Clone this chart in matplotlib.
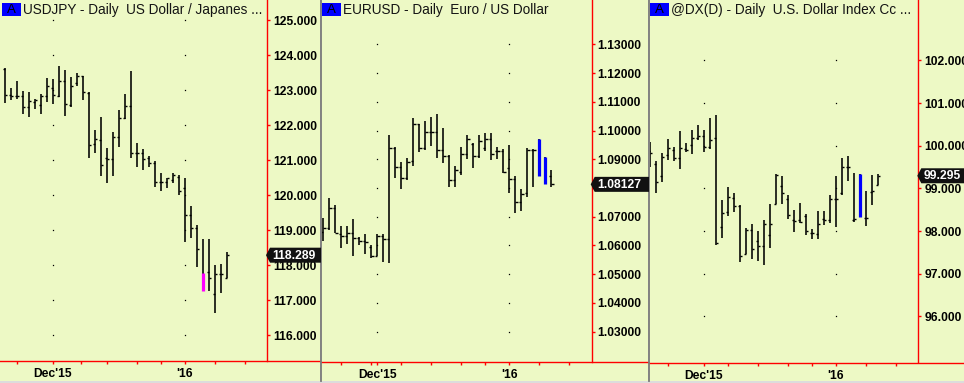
import matplotlib
matplotlib.use('Agg')
import matplotlib.pyplot as plt
from matplotlib.patches import Rectangle, Polygon

plt.rcParams['font.family'] = ['Liberation Sans', 'DejaVu Sans']

# ---------------- data ----------------
# Panel 1: USDJPY daily OHLC
jpy_open  = [123.60, 122.87, 122.85, 122.84, 122.53, 122.68, 122.59, 122.85, 123.06, 122.85,
             123.27, 122.58, 123.20, 123.41, 122.93, 121.47, 121.58, 121.06, 121.04, 121.66,
             122.20, 122.54, 121.22, 121.20, 121.06, 120.93, 120.39, 120.39, 120.44, 120.53,
             120.20, 119.44, 119.06, 117.77, 117.80, 117.18, 117.74, 117.63]
jpy_high  = [123.64, 123.06, 123.27, 122.98, 122.94, 122.75, 122.90, 123.34, 123.31, 123.70,
             123.58, 123.37, 123.49, 123.41, 122.96, 121.87, 122.25, 121.35, 121.81, 122.44,
             122.90, 123.55, 121.49, 121.32, 121.12, 120.98, 120.63, 120.49, 120.65, 120.58,
             120.49, 119.70, 119.15, 118.75, 118.75, 118.01, 118.04, 118.39]
jpy_low   = [122.63, 122.71, 122.75, 122.31, 122.25, 122.48, 122.31, 122.68, 122.60, 122.82,
             122.28, 122.51, 123.13, 122.71, 121.06, 121.22, 120.55, 120.34, 120.55, 121.37,
             122.19, 121.06, 120.82, 120.71, 120.81, 120.23, 120.13, 120.22, 120.34, 120.01,
             118.68, 118.77, 117.96, 117.28, 117.28, 116.65, 117.20, 117.63]
jpy_close = [122.87, 122.85, 122.84, 122.51, 122.69, 122.72, 122.84, 123.12, 122.88, 123.27,
             122.61, 123.12, 123.41, 122.94, 121.43, 121.60, 120.86, 121.04, 121.68, 122.20,
             122.54, 121.22, 121.22, 121.05, 120.93, 120.39, 120.39, 120.49, 120.58, 120.13,
             119.44, 119.06, 118.48, 117.28, 117.63, 117.74, 117.74, 118.289]
jpy_hilite = [33]
jpy_ticks = [116, 117, 118, 119, 120, 121, 122, 123, 124, 125]

# Panel 2: EURUSD daily OHLC
eur_open  = [1.0646, 1.0661, 1.0732, 1.0640, 1.0634, 1.0644, 1.0625, 1.0614, 1.0594, 1.0565,
             1.0634, 1.0623, 1.0940, 1.0874, 1.0836, 1.0894, 1.1023, 1.0940, 1.0995, 1.0995,
             1.0931, 1.0911, 1.0828, 1.0854, 1.0917, 1.0954, 1.0911, 1.0940, 1.0969, 1.0929,
             1.0929, 1.0871, 1.0830, 1.0750, 1.0781, 1.0931, 1.0972, 1.0908, 1.0842]
eur_high  = [1.0696, 1.0765, 1.0742, 1.0667, 1.0667, 1.0692, 1.0629, 1.0640, 1.0600, 1.0640,
             1.0640, 1.0983, 1.0942, 1.0890, 1.0903, 1.1042, 1.1023, 1.1032, 1.1047, 1.1058,
             1.1009, 1.0915, 1.0877, 1.0942, 1.0984, 1.0957, 1.0984, 1.0992, 1.0992, 1.0942,
             1.0937, 1.0948, 1.0842, 1.0798, 1.0940, 1.0934, 1.0972, 1.0908, 1.0862]
eur_low   = [1.0617, 1.0654, 1.0642, 1.0592, 1.0606, 1.0565, 1.0600, 1.0571, 1.0557, 1.0562,
             1.0542, 1.0540, 1.0834, 1.0796, 1.0828, 1.0877, 1.0926, 1.0931, 1.0946, 1.0903,
             1.0886, 1.0802, 1.0802, 1.0845, 1.0900, 1.0871, 1.0903, 1.0929, 1.0896, 1.0900,
             1.0851, 1.0781, 1.0712, 1.0719, 1.0769, 1.0804, 1.0842, 1.0813, 1.0804]
eur_close = [1.0661, 1.0732, 1.0642, 1.0634, 1.0644, 1.0625, 1.0614, 1.0611, 1.0565, 1.0634,
             1.0623, 1.0940, 1.0874, 1.0836, 1.0892, 1.1023, 1.0940, 1.0995, 1.0995, 1.0931,
             1.0911, 1.0828, 1.0863, 1.0917, 1.0970, 1.0911, 1.0965, 1.0969, 1.0919, 1.0929,
             1.0854, 1.0830, 1.0750, 1.0779, 1.0931, 1.0931, 1.0842, 1.0813, 1.08127]
eur_hilite = [36, 37]
eur_ticks = [1.03, 1.04, 1.05, 1.06, 1.07, 1.08, 1.09, 1.10, 1.11, 1.12, 1.13]

# Panel 3: @DX daily OHLC
dx_open  = [99.87, 99.58, 99.28, 99.79, 99.89, 99.71, 99.93, 100.02, 100.19, 100.23,
            99.97, 100.18, 98.09, 98.45, 98.77, 98.59, 97.47, 98.03, 97.76, 97.64,
            97.90, 98.64, 99.06, 98.74, 98.27, 98.27, 98.35, 97.96, 97.94, 98.29,
            98.25, 98.74, 98.90, 99.50, 98.25, 99.33, 98.31, 98.91, 99.09]
dx_high  = [100.09, 99.63, 99.83, 100.16, 99.97, 100.34, 100.07, 100.36, 100.48, 100.36,
            100.66, 100.71, 98.72, 99.03, 98.88, 98.62, 98.06, 98.16, 97.99, 98.27,
            98.64, 99.34, 99.28, 98.85, 98.50, 98.66, 98.39, 98.04, 98.46, 98.46,
            98.84, 99.29, 99.72, 99.75, 99.37, 99.33, 98.95, 99.32, 99.34]
dx_low   = [99.50, 98.89, 99.16, 99.67, 99.63, 99.46, 99.85, 99.81, 100.13, 99.85,
            99.93, 97.68, 97.84, 98.35, 98.45, 97.27, 97.47, 97.35, 97.29, 97.21,
            97.60, 98.64, 98.64, 98.29, 97.98, 98.20, 97.91, 97.82, 97.82, 98.15,
            98.20, 98.09, 98.84, 99.17, 98.21, 98.33, 98.12, 98.62, 99.07]
dx_close = [99.84, 99.16, 99.73, 99.95, 99.71, 99.95, 99.91, 100.19, 100.22, 99.97,
            100.13, 97.73, 98.43, 98.80, 98.59, 97.41, 98.03, 97.59, 97.64, 98.17,
            98.17, 99.31, 98.88, 98.37, 98.23, 98.21, 98.00, 97.95, 98.17, 98.27,
            98.74, 98.76, 99.50, 99.50, 98.29, 98.33, 98.31, 98.95, 99.295]
dx_hilite = [35]
dx_ticks = [96, 97, 98, 99, 100, 101, 102]

date_labels = ["Dec'15", "'16"]

# ---------------- layout ----------------
W, H = 964, 383
BG = '#EDF9C5'
fig = plt.figure(figsize=(W / 100, H / 100), dpi=100, facecolor='#DCDCDC')

bg = fig.add_axes([0, 0, 1, 1], zorder=0)
bg.set_xlim(0, W); bg.set_ylim(H, 0); bg.axis('off')
top = fig.add_axes([0, 0, 1, 1], zorder=10)
top.set_xlim(0, W); top.set_ylim(H, 0); top.axis('off'); top.patch.set_visible(False)


def px_rect(x0, y0, x1, y1):
    return [x0 / W, 1 - y1 / H, (x1 - x0) / W, (y1 - y0) / H]


panels = [
    dict(o=jpy_open, h=jpy_high, l=jpy_low, c=jpy_close, hil=jpy_hilite, hcol='#FF00FF',
         ticks=jpy_ticks, fmt='{:.3f}', title='USDJPY - Daily  US Dollar / Japanes ...',
         px0=0, px1=320, plot_x0=0, axis_x=267, bottom=360.7, bar0=5,
         ref_val=123, ref_px=90.3, ppu=35.0,
         major=[8, 30], minor=[2, 12.7, 17, 22, 26, 35, 40], cfmt='{:.3f}'),
    dict(o=eur_open, h=eur_high, l=eur_low, c=eur_close, hil=eur_hilite, hcol='#0000FF',
         ticks=eur_ticks, fmt='{:.5f}', title='EURUSD - Daily  Euro / US Dollar',
         px0=321, px1=648, plot_x0=322, axis_x=591.7, bottom=361.7, bar0=323.3,
         ref_val=1.13, ref_px=44.3, ppu=2874.0,
         major=[9, 31], minor=[3, 8, 13, 18, 23, 27, 36, 41], cfmt='{:.5f}'),
    dict(o=dx_open, h=dx_high, l=dx_low, c=dx_close, hil=dx_hilite, hcol='#0000FF',
         ticks=dx_ticks, fmt='{:.3f}', title='@DX(D) - Daily  U.S. Dollar Index Cc ...',
         px0=649, px1=964, plot_x0=649.5, axis_x=918.3, bottom=362.5, bar0=650,
         ref_val=100, ref_px=145.7, ppu=42.67,
         major=[9, 31], minor=[3, 13, 18, 23, 27, 36, 41], cfmt='{:.3f}'),
]

FS = 8.75
for p in panels:
    # panel background and frame
    bg.add_patch(Rectangle((p['px0'], 0), p['px1'] - p['px0'], 380.5, color=BG, lw=0))
    bg.plot([p['px0'], p['px1']], [p['bottom'], p['bottom']], color='#FF0000', lw=1.0)
    # "A" box + title
    ax0 = p['px0'] + (2 if p['px0'] == 0 else 1)
    bg.add_patch(Rectangle((ax0, 3), 18.5, 13, color='#0000FF', lw=0))
    bg.text(ax0 + 9.25, 10, 'A', ha='center', va='center', fontsize=9.5, color='black')
    bg.text(ax0 + 21, 10, p['title'], ha='left', va='center', fontsize=9.8, color='#141414')

    ax = fig.add_axes(px_rect(p['plot_x0'], 0, p['axis_x'], p['bottom']), zorder=2)
    ax.patch.set_visible(False)
    xl = (p['plot_x0'] - p['bar0']) / 6.0
    xr = (p['axis_x'] - p['bar0']) / 6.0
    ax.set_xlim(xl, xr)
    ytop = p['ref_val'] + p['ref_px'] / p['ppu']
    ybot = p['ref_val'] - (p['bottom'] - p['ref_px']) / p['ppu']
    ax.set_ylim(ybot, ytop)
    for s in ('top', 'left', 'bottom'):
        ax.spines[s].set_visible(False)
    ax.spines['right'].set_color('#FF0000')
    ax.spines['right'].set_linewidth(1.0)

    last = p['c'][-1]
    # labels hidden behind the last-price tag are left blank
    span = 7.5 / p['ppu']
    labels = ['' if abs(v - last) < span else p['fmt'].format(v) for v in p['ticks']]

    ax.yaxis.tick_right()
    ax.set_yticks(p['ticks'])
    ax.set_yticklabels(labels, fontweight='bold', fontsize=FS)
    ax.tick_params(axis='y', direction='out', length=2.3, width=1, color='#FF0000',
                   labelcolor='black', pad=2)
    ax.set_xticks(p['major'])
    ax.set_xticklabels(date_labels, fontweight='bold', fontsize=FS)
    ax.set_xticks(p['minor'], minor=True)
    ax.tick_params(axis='x', which='both', direction='out', length=2.3, width=1,
                   color='#FF0000', labelcolor='black', pad=3)

    # dotted grid (single dots at intersections)
    for xm in p['major']:
        ax.plot([xm] * len(p['ticks']), p['ticks'], ls='none', marker='s', ms=0.9,
                mew=0, color='black')

    # OHLC bars
    n = len(p['c'])
    for i in range(n):
        o, hh, ll, cc = p['o'][i], p['h'][i], p['l'][i], p['c'][i]
        ax.vlines(i, ll, hh, colors='black', lw=1.15)
        if i in p['hil']:
            ax.vlines(i, min(o, cc), max(o, cc), colors=p['hcol'], lw=2.3)
        else:
            ax.hlines(o, i - 0.38, i, colors='black', lw=1.0)
            ax.hlines(cc, i, i + 0.38, colors='black', lw=1.0)

    # last price tag
    yc = H - ax.transData.transform((0, last))[1]
    axx = p['axis_x']
    tag = Polygon([(axx - 1, yc), (axx + 3, yc - 7.5), (p['px1'] + 1, yc - 7.5),
                   (p['px1'] + 1, yc + 7.5), (axx + 3, yc + 7.5)], closed=True,
                  fc='#111111', ec='none')
    top.add_patch(tag)
    top.text(axx + 5.5, yc + 0.5, p['cfmt'].format(last), ha='left', va='center',
             fontsize=FS, fontweight='bold', color='white', clip_on=False)

# panel separators
for xs in (320.5, 648.5):
    bg.plot([xs, xs], [0, 381], color='#7A7A7A', lw=1.3)

fig.savefig('out.png', dpi=100, facecolor=fig.get_facecolor())
